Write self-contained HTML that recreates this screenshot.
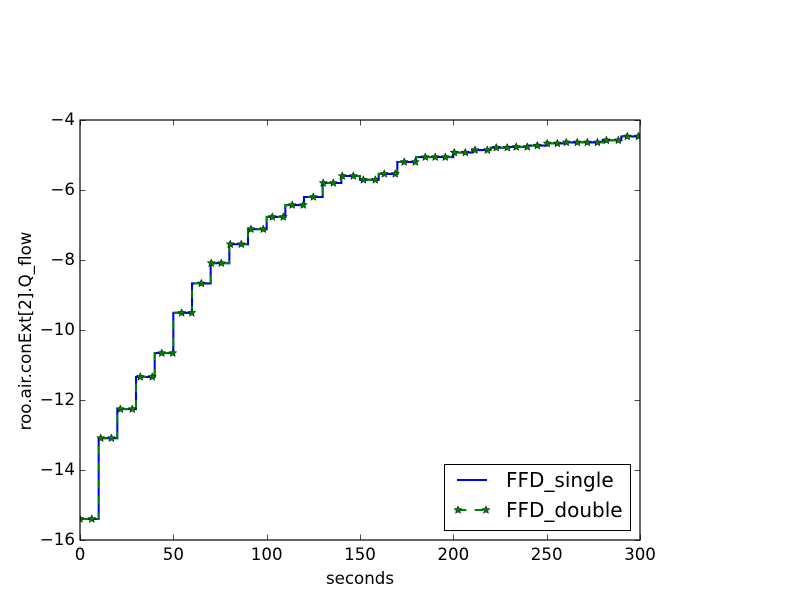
<!DOCTYPE html>
<html lang="en">
<head>
<meta charset="utf-8">
<title>roo.air.conExt[2].Q_flow</title>
<style>
  html, body { margin: 0; padding: 0; background: #fff; }
  svg { display: block; }
  text { font-family: "DejaVu Sans", "Liberation Sans", sans-serif; fill: #000; }
</style>
</head>
<body>
<svg id="chart" xmlns="http://www.w3.org/2000/svg" width="800" height="600" viewBox="0 0 800 600">
  <defs>
    <clipPath id="plot-clip"><rect x="80" y="120" width="560" height="420"></rect></clipPath>
  </defs>
  <rect x="0" y="0" width="800" height="600" fill="#ffffff"></rect>
  <rect x="80" y="120" width="560" height="420" fill="#ffffff"></rect>
  <g id="series-layer" clip-path="url(#plot-clip)"></g>
  <g id="tick-layer"></g>
  <rect x="80" y="120" width="560" height="420" fill="none" stroke="#000" stroke-width="1.2"></rect>
  <text x="360" y="584" font-size="16.67" text-anchor="middle">seconds</text>
  <text x="0" y="0" font-size="16.67" text-anchor="middle" transform="translate(31,331) rotate(-90)">roo.air.conExt[2].Q_flow</text>
  <g id="legend">
    <rect x="444.5" y="464.5" width="186" height="66" fill="#ffffff" stroke="#000" stroke-width="1"></rect>
    <line x1="457" y1="480" x2="487" y2="480" stroke="#0000ff" stroke-width="2.08"></line>
    <text x="506" y="487" font-size="20">FFD_single</text>
    <line x1="458" y1="510" x2="486" y2="510" stroke="#008000" stroke-width="2.08" stroke-dasharray="8.33 8.33"></line>
    <polygon id="legend-star-a" fill="#008000" stroke="#000" stroke-width="0.5"></polygon>
    <polygon id="legend-star-b" fill="#008000" stroke="#000" stroke-width="0.5"></polygon>
    <text x="506" y="517" font-size="20">FFD_double</text>
  </g>
</svg>
<script>
const stepTimes = [0,10,20,30,40,50,60,70,80,90,100,110,120,130,140,150,160,170,180,190,200,210,220,230,240,250,260,270,280,290,300];
const singleValues = [-15.4,-13.09,-12.26,-11.34,-10.66,-9.51,-8.67,-8.09,-7.55,-7.12,-6.77,-6.43,-6.2,-5.8,-5.6,-5.71,-5.54,-5.2,-5.06,-5.06,-4.93,-4.86,-4.79,-4.77,-4.73,-4.67,-4.64,-4.64,-4.58,-4.47,-4.47];
const doubleValues = [-15.4,-13.09,-12.26,-11.34,-10.66,-9.51,-8.67,-8.09,-7.55,-7.12,-6.77,-6.43,-6.2,-5.8,-5.6,-5.71,-5.54,-5.2,-5.06,-5.06,-4.93,-4.86,-4.79,-4.77,-4.73,-4.67,-4.64,-4.64,-4.58,-4.47,-4.47];
const markerTimes = [0,6.3,11.1,16.8,21.6,28,32.3,38.7,43.8,49.7,54.5,59.9,65,70.3,75.7,80.5,86.4,91.6,98.2,103,108.9,113.7,119.6,125,130.3,135.7,140.5,146.4,151.8,158.2,163,168.9,173.7,179.6,185,190.3,195.7,200.5,206.4,211.6,218.2,223,228.9,233.7,239.6,245,250.3,255.7,260.5,266.4,271.8,277.2,282,288.4,293.2,299.1];
const xTickValues = [0,50,100,150,200,250,300];
const yTickValues = [-4,-6,-8,-10,-12,-14,-16];

const SVG_NS = 'http://www.w3.org/2000/svg';
const plot = { left: 80, right: 640, top: 120, bottom: 540 };
const xDomain = [0, 300];
const yDomain = [-16, -4];
function xScale(v) {
  return plot.left + (v - xDomain[0]) / (xDomain[1] - xDomain[0]) * (plot.right - plot.left);
}
function yScale(v) {
  return plot.bottom - (v - yDomain[0]) / (yDomain[1] - yDomain[0]) * (plot.bottom - plot.top);
}
function stepPath(times, values) {
  let d = 'M' + xScale(times[0]).toFixed(2) + ' ' + yScale(values[0]).toFixed(2);
  for (let i = 1; i < times.length; i++) {
    d += ' L' + xScale(times[i]).toFixed(2) + ' ' + yScale(values[i - 1]).toFixed(2);
    d += ' L' + xScale(times[i]).toFixed(2) + ' ' + yScale(values[i]).toFixed(2);
  }
  return d;
}
function valueAt(t, times, values) {
  let v = values[0];
  for (let i = 0; i < times.length; i++) {
    if (times[i] <= t) v = values[i];
  }
  return v;
}
function starPoints(cx, cy, r) {
  const pts = [];
  for (let i = 0; i < 10; i++) {
    const rad = i % 2 === 0 ? r : r * 0.45;
    const a = -Math.PI / 2 + i * Math.PI / 5;
    pts.push((cx + rad * Math.cos(a)).toFixed(2) + ',' + (cy + rad * Math.sin(a)).toFixed(2));
  }
  return pts.join(' ');
}
const seriesLayer = document.getElementById('series-layer');
const tickLayer = document.getElementById('tick-layer');

const singleLine = document.createElementNS(SVG_NS, 'path');


singleLine.setAttribute('d', stepPath(stepTimes, singleValues));
singleLine.setAttribute('fill', 'none');
singleLine.setAttribute('stroke', '#0000ff');
singleLine.setAttribute('stroke-width', '2.08');
seriesLayer.appendChild(singleLine);

const doubleLine = document.createElementNS(SVG_NS, 'path');


doubleLine.setAttribute('d', stepPath(stepTimes, doubleValues));
doubleLine.setAttribute('fill', 'none');
doubleLine.setAttribute('stroke', '#008000');
doubleLine.setAttribute('stroke-width', '2.08');
doubleLine.setAttribute('stroke-dasharray', '8.33 8.33');
seriesLayer.appendChild(doubleLine);

markerTimes.forEach(function (t) {
  const star = document.createElementNS(SVG_NS, 'polygon');
  
  
  star.setAttribute('points', starPoints(xScale(t), yScale(valueAt(t, stepTimes, doubleValues)), 4.2));
  star.setAttribute('fill', '#008000');
  star.setAttribute('stroke', '#000000');
  star.setAttribute('stroke-width', '0.5');
  seriesLayer.appendChild(star);
});

function addTickMark(x1, y1, x2, y2) {
  const tick = document.createElementNS(SVG_NS, 'line');
  
  
  tick.setAttribute('x1', x1);
  tick.setAttribute('y1', y1);
  tick.setAttribute('x2', x2);
  tick.setAttribute('y2', y2);
  tick.setAttribute('stroke', '#000000');
  tick.setAttribute('stroke-width', '0.7');
  tickLayer.appendChild(tick);
}
xTickValues.forEach(function (v) {
  const x = Math.round(xScale(v)) + 0.5;
  addTickMark(x, plot.bottom, x, plot.bottom - 5.5);
  addTickMark(x, plot.top, x, plot.top + 5.5);
  const label = document.createElementNS(SVG_NS, 'text');
  
  
  label.setAttribute('x', xScale(v));
  label.setAttribute('y', 560);
  label.setAttribute('font-size', '16.67');
  label.setAttribute('text-anchor', 'middle');
  label.textContent = String(v);
  tickLayer.appendChild(label);
});
yTickValues.forEach(function (v) {
  const y = Math.round(yScale(v)) + 0.5;
  addTickMark(plot.left, y, plot.left + 5.5, y);
  addTickMark(plot.right, y, plot.right - 5.5, y);
  const label = document.createElementNS(SVG_NS, 'text');
  
  
  label.setAttribute('x', 75);
  label.setAttribute('y', yScale(v) + 5);
  label.setAttribute('font-size', '16.67');
  label.setAttribute('text-anchor', 'end');
  label.textContent = '\u2212' + Math.abs(v);
  tickLayer.appendChild(label);
});
document.getElementById('legend-star-a').setAttribute('points', starPoints(458, 510, 4.2));
document.getElementById('legend-star-b').setAttribute('points', starPoints(486, 510, 4.2));
</script>
</body>
</html>
